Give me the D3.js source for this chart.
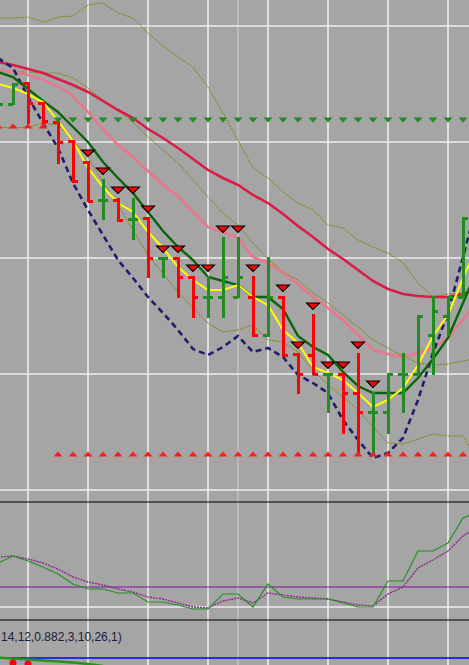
<!DOCTYPE html>
<html>
<head>
<meta charset="utf-8">
<script src="https://cdn.jsdelivr.net/npm/d3@7"></script>
<style>
  html, body { margin: 0; padding: 0; background: #a5a5a5; overflow: hidden; }
  svg { display: block; }
</style>
</head>
<body>
<svg id="chart"></svg>
<script>
// hourly bars (first and last ones sit just outside the visible area)
const times = [
  "03.04 22:00", "03.04 23:00",
  "04.04 00:00", "04.04 01:00", "04.04 02:00", "04.04 03:00", "04.04 04:00", "04.04 05:00",
  "04.04 06:00", "04.04 07:00", "04.04 08:00", "04.04 09:00", "04.04 10:00", "04.04 11:00",
  "04.04 12:00", "04.04 13:00", "04.04 14:00", "04.04 15:00", "04.04 16:00", "04.04 17:00",
  "04.04 18:00", "04.04 19:00", "04.04 20:00", "04.04 21:00", "04.04 22:00", "04.04 23:00",
  "05.04 00:00", "05.04 01:00", "05.04 02:00", "05.04 03:00", "05.04 04:00", "05.04 05:00",
  "05.04 06:00"
];
const markerTime = "04.04 14:00";

// prices in points
const open  = [884, 896, 917, 897, 878, 859, 838, 800, 800, 781, 782, 742, 742, 723, 703, 703, 703,
               703, 665, 703, 646, 645, 626, 626, 607, 588, 588, 626, 626, 665, 684, 703, 782];
const high  = [900, 916, 917, 897, 878, 859, 838, 820, 801, 801, 782, 742, 742, 723, 723, 762, 762,
               723, 742, 703, 646, 685, 626, 626, 646, 607, 626, 646, 684, 703, 703, 782, 800];
const low   = [884, 896, 877, 876, 837, 818, 799, 781, 779, 761, 723, 723, 703, 683, 683, 683, 703,
               664, 664, 644, 607, 626, 588, 567, 548, 547, 567, 588, 626, 626, 665, 703, 760];
const close = [896, 916, 897, 879, 858, 819, 799, 800, 780, 781, 742, 742, 723, 703, 703, 723, 723,
               665, 703, 645, 626, 626, 626, 607, 588, 588, 626, 626, 684, 689, 703, 782, 795];

// sell arrows above the bars
const sellSignal = [0, 0, 0, 0, 0, 0, 1, 1, 1, 1, 1, 1, 1, 1, 1, 1, 1,
                    1, 0, 1, 1, 1, 1, 1, 1, 1, 0, 0, 0, 0, 0, 0, 0];

// support / resistance dots
const support    = [874, 874, 874, 874, 546, 546, 546, 546, 546, 546, 546, 546, 546, 546, 546, 546, 546,
                    546, 546, 546, 546, 546, 546, 546, 546, 546, 546, 546, 546, 546, 546, 546, 546];
const resistance = [null, null, null, null, 880, 880, 880, 880, 880, 880, 880, 880, 880, 880, 880, 880, 880,
                    880, 880, 880, 880, 880, 880, 880, 880, 880, 880, 880, 880, 880, 880, 880, 880];

// moving averages
const maFast = [916, 912, 906, 898, 879, 859, 832, 813, 797, 788, 768, 752, 733, 720, 710, 710, 715,
                703, 695, 670, 657, 633, 627, 620, 607, 593, 600, 612, 635, 664, 685, 722, 755];
const maMid  = [928, 923, 911, 899, 888, 873, 858, 838, 822, 807, 788, 769, 753, 740, 723, 719, 715,
                703, 703, 691, 664, 653, 645, 628, 614, 607, 607, 607, 622, 641, 662, 697, 732];
const maSlow = [930, 928, 925, 920, 914, 904, 888, 871, 855, 843, 829, 815, 804, 788, 773, 768, 762,
                743, 737, 727, 716, 703, 692, 680, 665, 650, 646, 643, 647, 652, 662, 680, 700];
const maLong = [938, 935, 931, 927, 921, 915, 908, 899, 890, 882, 871, 862, 852, 841, 830, 822, 815,
                805, 797, 786, 774, 763, 751, 741, 730, 719, 711, 706, 704, 703, 703, 706, 712];
const trail  = [942, 932, 903, 877, 852, 817, 790, 765, 740, 722, 703, 687, 670, 651, 645, 653, 664,
                648, 652, 643, 625, 617, 607, 580, 560, 542, 547, 562, 600, 647, 687, 743, 800];

// envelope bands
const bandUpper = [982, 982, 983, 978, 983, 984, 995, 997, 987, 982, 967, 954, 943, 933, 913, 887, 860,
                   832, 822, 808, 797, 790, 775, 772, 760, 753, 747, 737, 717, 703, 706, 707, 707];
const bandMid   = [929, 928, 928, 927, 927, 922, 912, 900, 890, 878, 863, 850, 837, 820, 803, 787, 775,
                   757, 741, 728, 720, 707, 697, 685, 673, 660, 652, 644, 637, 635, 636, 639, 642];
const bandLower = [873, 872, 873, 877, 875, 860, 843, 818, 795, 770, 745, 726, 708, 692, 677, 668, 670,
                   675, 660, 658, 648, 630, 615, 603, 590, 573, 557, 556, 561, 566, 564, 564, 540];

// oscillator panel
const oscMain   = [44, 51, 46, 40, 33, 23, 18, 18, 14, 14, 5, 5, 2, -2, -2, 13, 13,
                   0, 23, 10, 8, 8, 8, 4, 0, 0, 26, 26, 56, 56, 64, 89, 95];
const oscSignal = [50, 51, 48, 44, 38, 30, 25, 22, 18, 15, 10, 8, 4, 0, -1, 6, 9,
                   4, 14, 12, 10, 9, 8, 5, 2, 1, 13, 20, 39, 47, 56, 71, 80];
const oscLevel = 20;

// third panel (only its top edge is visible)
const macdLabel = "14,12,0.882,3,10,26,1)";
const macdLine = [0.5, -0.5, -1.5, -2.5, -3.5, -4.5, -6, -8];
const macdDots = [null, -5, -6];

const W = 469, H = 665;
const svg = d3.select("#chart").attr("width", W).attr("height", H);

svg.append("rect").attr("width", W).attr("height", H).attr("fill", "#a5a5a5");

const x = d3.scalePoint().domain(times).range([-2, 478]);
const y = d3.scaleLinear().domain([335, 1000]).range([665, 0]);
const yOsc = d3.scaleLinear().domain([0, 100]).range([607, 507]);
const yMacd = d3.scaleLinear().domain([0, 10]).range([658, 648]);

const defs = svg.append("defs");
defs.append("clipPath").attr("id", "clipMain")
  .append("rect").attr("x", 0).attr("y", 0).attr("width", W).attr("height", 502);
defs.append("clipPath").attr("id", "clipOsc")
  .append("rect").attr("x", 0).attr("y", 502).attr("width", W).attr("height", 118);
defs.append("clipPath").attr("id", "clipMacd")
  .append("rect").attr("x", 0).attr("y", 620).attr("width", W).attr("height", 45);

// vertical grid every 4 hours, across all panels
const gridTimes = times.filter(t => +t.slice(6, 8) % 4 === 0);
svg.append("g").selectAll("line")
  .data(gridTimes)
  .join("line")
    .attr("x1", d => x(d)).attr("x2", d => x(d))
    .attr("y1", 0).attr("y2", H)
    .attr("stroke", "#ededed")
    .attr("stroke-width", 1.6);

svg.append("line")
  .attr("x1", x(markerTime)).attr("x2", x(markerTime))
  .attr("y1", 0).attr("y2", H)
  .attr("stroke", "#c4c4c4")
  .attr("stroke-width", 1.4);

// horizontal price grid
const priceGrid = [974, 858, 742, 626, 510];
svg.append("g").selectAll("line")
  .data(priceGrid)
  .join("line")
    .attr("x1", 0).attr("x2", W)
    .attr("y1", d => y(d)).attr("y2", d => y(d))
    .attr("stroke", "#ededed")
    .attr("stroke-width", 1.6);

svg.append("line")
  .attr("x1", 0).attr("x2", W)
  .attr("y1", yOsc(0)).attr("y2", yOsc(0))
  .attr("stroke", "#ededed").attr("stroke-width", 1.6);

// ---------- main panel ----------
const main = svg.append("g").attr("clip-path", "url(#clipMain)");

function priceLine(values) {
  return d3.line()
    .defined(d => d[1] != null)
    .x(d => x(d[0]))
    .y(d => y(d[1]))(times.map((t, i) => [t, values[i]]));
}

[bandUpper, bandMid, bandLower].forEach(b => {
  main.append("path")
    .attr("d", priceLine(b))
    .attr("fill", "none")
    .attr("stroke", "#858200")
    .attr("stroke-width", 1)
    .attr("stroke-dasharray", "2,1");
});

main.append("path").attr("d", priceLine(maLong))
  .attr("fill", "none").attr("stroke", "#dc1c44").attr("stroke-width", 2.6);
main.append("path").attr("d", priceLine(maSlow))
  .attr("fill", "none").attr("stroke", "#e8788e").attr("stroke-width", 2.6);
main.append("path").attr("d", priceLine(trail))
  .attr("fill", "none").attr("stroke", "#1e1e6e").attr("stroke-width", 2.6)
  .attr("stroke-dasharray", "6,4");
main.append("path").attr("d", priceLine(maMid))
  .attr("fill", "none").attr("stroke", "#0a640a").attr("stroke-width", 2.4);
main.append("path").attr("d", priceLine(maFast))
  .attr("fill", "none").attr("stroke", "#ffff00").attr("stroke-width", 2);

// OHLC bars
const barData = times.map((t, i) => ({ t, o: open[i], h: high[i], l: low[i], c: close[i] }));
const barG = main.append("g").selectAll("g")
  .data(barData)
  .join("g")
    .attr("stroke", d => d.c >= d.o ? "#228b22" : "#ff0000")
    .attr("stroke-width", 3)
    .attr("shape-rendering", "crispEdges");
barG.append("line")
  .attr("x1", d => x(d.t)).attr("x2", d => x(d.t))
  .attr("y1", d => y(d.h) - 1).attr("y2", d => y(d.l) + 1);
barG.append("line")
  .attr("x1", d => x(d.t) - 5).attr("x2", d => x(d.t))
  .attr("y1", d => y(d.o)).attr("y2", d => y(d.o));
barG.append("line")
  .attr("x1", d => x(d.t)).attr("x2", d => x(d.t) + 5)
  .attr("y1", d => y(d.c)).attr("y2", d => y(d.c));

// sell arrows
main.append("g").selectAll("path")
  .data(barData.filter((d, i) => sellSignal[i]))
  .join("path")
    .attr("d", d => {
      const cx = x(d.t), top = y(d.h) - 12;
      return `M${cx - 6.5},${top}L${cx + 6.5},${top}L${cx},${top + 6.5}Z`;
    })
    .attr("fill", "#ff0000")
    .attr("stroke", "#000")
    .attr("stroke-width", 1.1);

// support dots (up) and resistance dots (down)
main.append("g").selectAll("path")
  .data(times.map((t, i) => [t, support[i]]).filter(d => d[1] != null))
  .join("path")
    .attr("d", d => {
      const cx = x(d[0]), cy = y(d[1]);
      return `M${cx - 4.5},${cy + 2.5}L${cx + 4.5},${cy + 2.5}L${cx},${cy - 2.5}Z`;
    })
    .attr("fill", "#ff1e1e");
main.append("g").selectAll("path")
  .data(times.map((t, i) => [t, resistance[i]]).filter(d => d[1] != null))
  .join("path")
    .attr("d", d => {
      const cx = x(d[0]), cy = y(d[1]);
      return `M${cx - 4.5},${cy - 2.5}L${cx + 4.5},${cy - 2.5}L${cx},${cy + 2.5}Z`;
    })
    .attr("fill", "#1e8c1e");

// panel separators
[502, 620].forEach(v => {
  svg.append("line")
    .attr("x1", 0).attr("x2", W).attr("y1", v).attr("y2", v)
    .attr("stroke", "#000").attr("stroke-width", 1.2);
});

// ---------- oscillator panel ----------
const osc = svg.append("g").attr("clip-path", "url(#clipOsc)");
osc.append("line")
  .attr("x1", 0).attr("x2", W)
  .attr("y1", yOsc(oscLevel)).attr("y2", yOsc(oscLevel))
  .attr("stroke", "#8214a0").attr("stroke-width", 1.2);

const oscLine = vals => d3.line()
  .x(d => x(d[0]))
  .y(d => yOsc(d[1]))(times.map((t, i) => [t, vals[i]]));

osc.append("path").attr("d", oscLine(oscSignal))
  .attr("fill", "none").attr("stroke", "#8c2a8c").attr("stroke-width", 1.4)
  .attr("stroke-dasharray", "2,1");
osc.append("path").attr("d", oscLine(oscMain))
  .attr("fill", "none").attr("stroke", "#23921f").attr("stroke-width", 1.2);

// ---------- third panel ----------
const mp = svg.append("g");
mp.append("text")
  .attr("x", 1).attr("y", 641)
  .attr("font-family", "'Liberation Sans', Arial, sans-serif")
  .attr("font-size", 12)
  .attr("fill", "#1a1a3a")
  .text(macdLabel);

const mpLines = svg.append("g").attr("clip-path", "url(#clipMacd)");
mpLines.append("line")
  .attr("x1", 0).attr("x2", W)
  .attr("y1", yMacd(0)).attr("y2", yMacd(0))
  .attr("stroke", "#0000ff").attr("stroke-width", 1.5);

mpLines.append("path")
  .attr("d", d3.line().x(d => x(d[0])).y(d => yMacd(d[1]))(macdLine.map((v, i) => [times[i], v])))
  .attr("fill", "none").attr("stroke", "#23921f").attr("stroke-width", 2.5);

mpLines.append("g").selectAll("circle")
  .data(macdDots.map((v, i) => [times[i], v]).filter(d => d[1] != null))
  .join("circle")
    .attr("cx", d => x(d[0])).attr("cy", d => yMacd(d[1]))
    .attr("r", 3.5)
    .attr("fill", "#ff0000");
</script>
</body>
</html>
